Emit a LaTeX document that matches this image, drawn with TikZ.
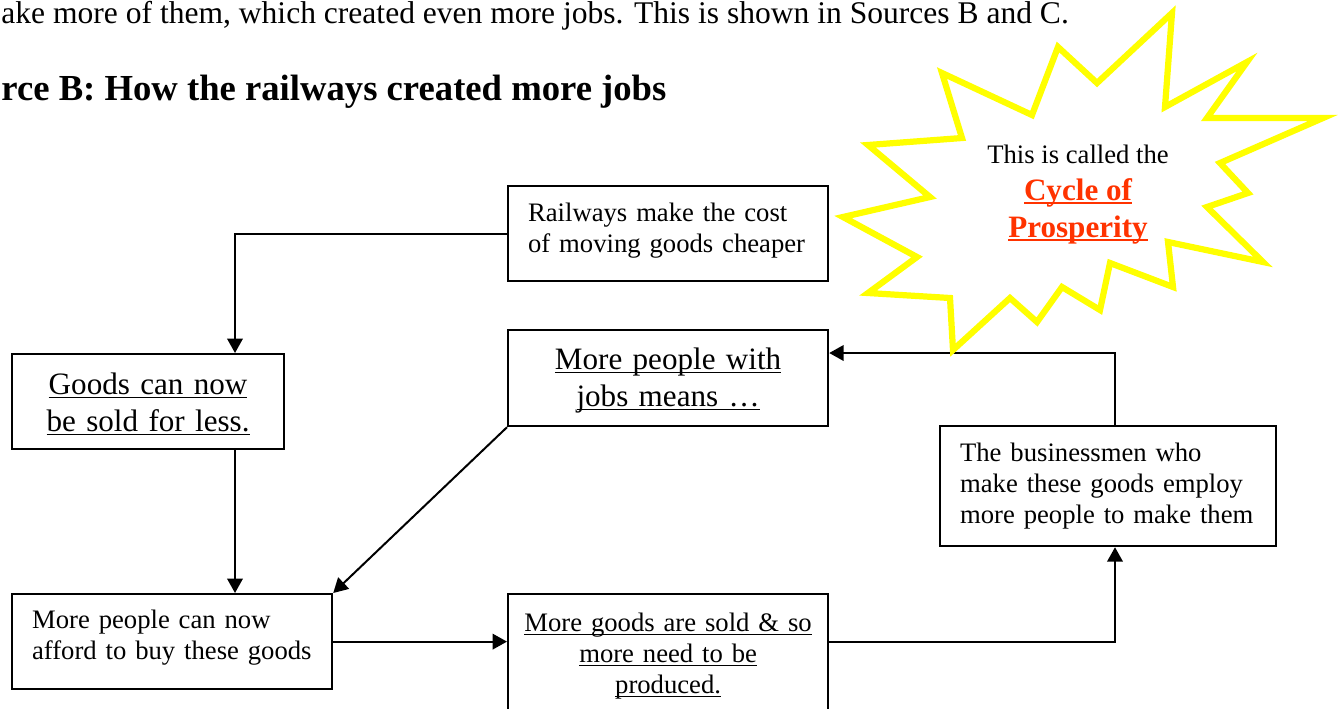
\documentclass[tikz,border=0pt]{standalone}
\usepackage{fontspec}
\setmainfont{Liberation Serif}
\usetikzlibrary{arrows.meta}

\definecolor{cyred}{HTML}{FF3300}
\definecolor{cyyellow}{HTML}{FFFF00}

% underline at a fixed depth below the baseline
\newsavebox\ulnbox
\newcommand\uln[2][0.05em]{\leavevmode\sbox\ulnbox{#2}\rlap{\rule[-0.14em]{\wd\ulnbox}{#1}}\usebox\ulnbox}

\tikzset{
  box/.style={draw, line width=1pt, anchor=north west, inner ysep=0pt, inner xsep=9pt, align=left},
  cbox/.style={draw, line width=1pt, anchor=north west, inner ysep=0pt, inner xsep=4pt, align=center},
  arr/.style={line width=0.9pt, -{Triangle[length=6.5pt,width=7pt]}},
  small/.style={font=\fontsize{12}{13.95}\selectfont},
  big/.style={font=\fontsize{14}{16.65}\selectfont},
  burst/.style={draw=cyyellow, fill=white, line width=2.8pt}
}

\begin{document}
\begin{tikzpicture}[x=0.45pt, y=-0.45pt]
  \useasboundingbox (0,0) rectangle (1343,708);
  \clip (0,0) rectangle (1343,708);

  % text above the diagram
  \node[anchor=base west, font=\fontsize{14.2}{16.65}\selectfont, inner sep=0pt] (intro) at (1,23) {ake more of them, which created even more jobs. This is shown in Sources B and C.};
  \node[anchor=base west, font=\fontsize{16.5}{19}\selectfont\bfseries, inner sep=0pt] (title) at (1,100) {rce B: How the railways created more jobs};

  % boxes
  \node[box, small, text width=126pt, text height=15.75pt, text depth=27pt] (rail) at (507,185) {Railways make the cost\\of moving goods cheaper};
  \node[cbox, big, text width=114.4pt, text height=18pt, text depth=24.75pt] (goods) at (11,353) {\uln{Goods can now}\\\uln{be sold for less.}};
  \node[cbox, big, text width=136pt, text height=17.55pt, text depth=25.65pt] (jobs) at (507,329) {\uln{More people with}\\\uln{jobs means …}};
  \node[box, small, text width=126pt, text height=15.3pt, text depth=27.45pt] (afford) at (11,593) {More people can now\\afford to buy these goods};
  \node[cbox, small, text width=136pt, text height=16.65pt, text depth=39.6pt] (sold) at (507,593) {\uln{More goods are sold \& so}\\\uln{more need to be}\\\uln{produced.}};
  \node[box, small, text width=133.2pt, text height=15.75pt, text depth=38.25pt] (biz) at (939,425) {The businessmen who\\make these goods employ\\more people to make them};

  % arrows
  \coordinate (colA) at (235,0);
  \coordinate (colB) at (1115,0);
  \coordinate (rowA) at (0,353);
  \draw[arr] (rail.west) -| (goods.north -| colA);
  \draw[arr] (goods.south -| colA) -- (afford.north -| colA);
  \draw[arr] (jobs.south west) -- (afford.north east);
  \draw[arr] (afford.east) -- (afford.east -| sold.west);
  \draw[arr] (afford.east -| sold.east) -| (biz.south -| colB);
  \draw[arr] (biz.north -| colB) |- (jobs.east |- rowA);

  % the star
  \draw[burst] (1172,13) -- (1165,107) -- (1247,62) -- (1207,118) -- (1323,118) -- (1220,163)
    -- (1248,193) -- (1207,207) -- (1263,262) -- (1168,242) -- (1173,287) -- (1110,263)
    -- (1100,310) -- (1062,287) -- (1037,322) -- (1010,298) -- (953,350) -- (950,298)
    -- (868,293) -- (917,257) -- (843,217) -- (930,197) -- (868,145) -- (962,138)
    -- (942,73) -- (1032,115) -- (1058,47) -- (1097,83) -- cycle;
  \node[anchor=base, align=center, big, inner sep=0pt] (cycle) at (1078,237) {{\fontsize{12}{13.95}\selectfont This is called the}\\{\bfseries\color{cyred}\uln[0.09em]{Cycle of}}\\{\bfseries\color{cyred}\uln[0.09em]{Prosperity}}};
\end{tikzpicture}
\end{document}
